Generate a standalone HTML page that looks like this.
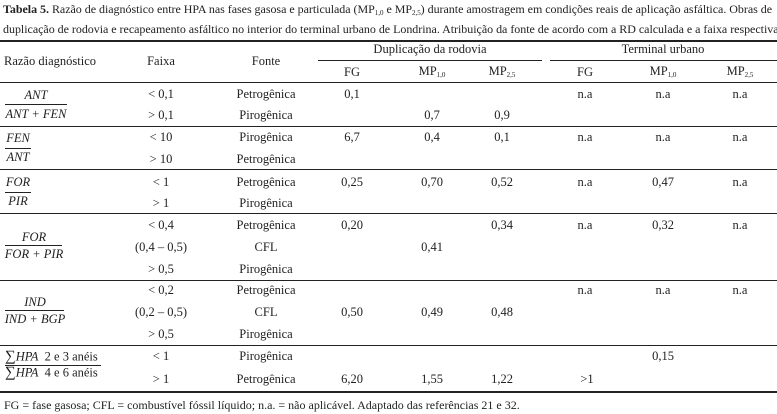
<!DOCTYPE html>
<html><head><meta charset="utf-8"><style>
body{margin:0;width:777px;height:414px;background:#fff;position:relative;overflow:hidden;font-family:"Liberation Serif",serif;color:#222;}
.t{position:absolute;font-size:12.5px;white-space:nowrap;transform:translate(-50%,-50%);line-height:1;}
.l{position:absolute;font-size:12.5px;white-space:nowrap;transform:translateY(-50%);line-height:1;}
.i{font-style:italic;}
.h{position:absolute;height:1px;background:#222;}
.cap{position:absolute;left:3px;top:1px;font-size:12px;line-height:16px;color:#222;white-space:nowrap;letter-spacing:-0.03px;}
sub{font-size:7px;vertical-align:-2px;}
</style></head><body>
<div class="cap"><b>Tabela 5.</b> Razão de diagnóstico entre HPA nas fases gasosa e particulada (MP<sub>1,0</sub> e MP<sub>2,5</sub>) durante amostragem em condições reais de aplicação asfáltica. Obras de<br>duplicação de rodovia e recapeamento asfáltico no interior do terminal urbano de Londrina. Atribuição da fonte de acordo com a RD calculada e a faixa respectiva</div>
<div class="h" style="left:0;width:777px;top:40px;height:1.5px"></div>
<div class="h" style="left:318px;width:224px;top:60px"></div>
<div class="h" style="left:550px;width:227px;top:60px"></div>
<div class="h" style="left:0;width:777px;top:82px"></div>
<div class="h" style="left:0;width:777px;top:126px"></div>
<div class="h" style="left:0;width:777px;top:169px"></div>
<div class="h" style="left:0;width:777px;top:213px"></div>
<div class="h" style="left:0;width:777px;top:280px"></div>
<div class="h" style="left:0;width:777px;top:345px"></div>
<div class="h" style="left:0;width:777px;top:391px;height:1.5px"></div>

<div class="l" style="left:4px;top:61px">Razão diagnóstico</div>
<div class="t" style="left:161px;top:61px">Faixa</div>
<div class="t" style="left:266px;top:61px">Fonte</div>
<div class="t" style="left:430px;top:49px">Duplicação da rodovia</div>
<div class="t" style="left:663px;top:49px">Terminal urbano</div>
<div class="t" style="left:352px;top:72px">FG</div>
<div class="t" style="left:432px;top:72px">MP<sub>1,0</sub></div>
<div class="t" style="left:502px;top:72px">MP<sub>2,5</sub></div>
<div class="t" style="left:585px;top:72px">FG</div>
<div class="t" style="left:663px;top:72px">MP<sub>1,0</sub></div>
<div class="t" style="left:740px;top:72px">MP<sub>2,5</sub></div>

<div class="t i" style="left:36px;top:95px">ANT</div>
<div class="h" style="left:5px;width:62px;top:104px"></div>
<div class="t i" style="left:36px;top:114px">ANT + FEN</div>
<div class="t i" style="left:18px;top:138px">FEN</div>
<div class="h" style="left:5px;width:26px;top:148px"></div>
<div class="t i" style="left:18px;top:157px">ANT</div>
<div class="t i" style="left:18px;top:182px">FOR</div>
<div class="h" style="left:5px;width:26px;top:192px"></div>
<div class="t i" style="left:18px;top:201px">PIR</div>
<div class="t i" style="left:34px;top:237px">FOR</div>
<div class="h" style="left:5px;width:57px;top:245px"></div>
<div class="t i" style="left:34px;top:254px">FOR + PIR</div>
<div class="t i" style="left:35px;top:302px">IND</div>
<div class="h" style="left:5px;width:59px;top:310px"></div>
<div class="t i" style="left:35px;top:319px">IND + BGP</div>
<div class="l" style="left:5px;top:357px"><span style="font-size:15px">∑</span><i>HPA</i>&nbsp; 2 e 3 anéis</div>
<div class="h" style="left:5px;width:96px;top:365px"></div>
<div class="l" style="left:5px;top:373px"><span style="font-size:15px">∑</span><i>HPA</i>&nbsp; 4 e 6 anéis</div>

<div class="t" style="left:161px;top:94px">&lt; 0,1</div><div class="t" style="left:266px;top:94px">Petrogênica</div>
<div class="t" style="left:161px;top:115px">&gt; 0,1</div><div class="t" style="left:266px;top:115px">Pirogênica</div>
<div class="t" style="left:161px;top:137px">&lt; 10</div><div class="t" style="left:266px;top:137px">Pirogênica</div>
<div class="t" style="left:161px;top:159px">&gt; 10</div><div class="t" style="left:266px;top:159px">Petrogênica</div>
<div class="t" style="left:161px;top:182px">&lt; 1</div><div class="t" style="left:266px;top:182px">Petrogênica</div>
<div class="t" style="left:161px;top:203px">&gt; 1</div><div class="t" style="left:266px;top:203px">Pirogênica</div>
<div class="t" style="left:161px;top:225px">&lt; 0,4</div><div class="t" style="left:266px;top:225px">Petrogênica</div>
<div class="t" style="left:161px;top:247px">(0,4 – 0,5)</div><div class="t" style="left:266px;top:247px">CFL</div>
<div class="t" style="left:161px;top:269px">&gt; 0,5</div><div class="t" style="left:266px;top:269px">Pirogênica</div>
<div class="t" style="left:161px;top:290px">&lt; 0,2</div><div class="t" style="left:266px;top:290px">Petrogênica</div>
<div class="t" style="left:161px;top:312px">(0,2 – 0,5)</div><div class="t" style="left:266px;top:312px">CFL</div>
<div class="t" style="left:161px;top:334px">&gt; 0,5</div><div class="t" style="left:266px;top:334px">Pirogênica</div>
<div class="t" style="left:161px;top:356px">&lt; 1</div><div class="t" style="left:266px;top:356px">Pirogênica</div>
<div class="t" style="left:161px;top:379px">&gt; 1</div><div class="t" style="left:266px;top:379px">Petrogênica</div>

<div class="t" style="left:352px;top:94px">0,1</div>
<div class="t" style="left:585px;top:94px">n.a</div><div class="t" style="left:663px;top:94px">n.a</div><div class="t" style="left:740px;top:94px">n.a</div>
<div class="t" style="left:432px;top:115px">0,7</div><div class="t" style="left:502px;top:115px">0,9</div>
<div class="t" style="left:352px;top:137px">6,7</div><div class="t" style="left:432px;top:137px">0,4</div><div class="t" style="left:502px;top:137px">0,1</div>
<div class="t" style="left:585px;top:137px">n.a</div><div class="t" style="left:663px;top:137px">n.a</div><div class="t" style="left:740px;top:137px">n.a</div>
<div class="t" style="left:352px;top:182px">0,25</div><div class="t" style="left:432px;top:182px">0,70</div><div class="t" style="left:502px;top:182px">0,52</div>
<div class="t" style="left:585px;top:182px">n.a</div><div class="t" style="left:663px;top:182px">0,47</div><div class="t" style="left:740px;top:182px">n.a</div>
<div class="t" style="left:352px;top:225px">0,20</div><div class="t" style="left:502px;top:225px">0,34</div>
<div class="t" style="left:585px;top:225px">n.a</div><div class="t" style="left:663px;top:225px">0,32</div><div class="t" style="left:740px;top:225px">n.a</div>
<div class="t" style="left:432px;top:247px">0,41</div>
<div class="t" style="left:585px;top:290px">n.a</div><div class="t" style="left:663px;top:290px">n.a</div><div class="t" style="left:740px;top:290px">n.a</div>
<div class="t" style="left:352px;top:312px">0,50</div><div class="t" style="left:432px;top:312px">0,49</div><div class="t" style="left:502px;top:312px">0,48</div>
<div class="t" style="left:663px;top:356px">0,15</div>
<div class="t" style="left:352px;top:379px">6,20</div><div class="t" style="left:432px;top:379px">1,55</div><div class="t" style="left:502px;top:379px">1,22</div>
<div class="t" style="left:587px;top:379px">&gt;1</div>

<div class="l" style="left:4px;top:405px;font-size:12px">FG = fase gasosa; CFL = combustível fóssil líquido; n.a. = não aplicável. Adaptado das referências 21 e 32.</div>
</body></html>
